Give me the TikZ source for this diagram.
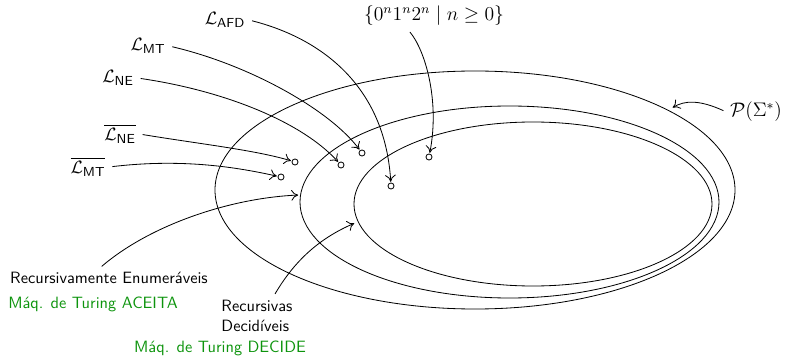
\documentclass[tikz,border=0pt]{standalone}
\usepackage{amsmath,amssymb}
\usetikzlibrary{arrows.meta}
\definecolor{tmgreen}{rgb}{0.05,0.58,0.05}
\begin{document}
\begin{tikzpicture}[x=0.611pt,y=-0.611pt, line width=0.5pt,
  lbl/.style={font=\sffamily, inner sep=2pt},
  glbl/.style={font=\sffamily, text=tmgreen, inner sep=2pt},
  mlbl/.style={inner sep=2pt, font=\fontsize{10.8}{13}\selectfont},
  bmlbl/.style={inner sep=2pt, font=\fontsize{11.7}{14}\selectfont},
  dot/.style={circle, draw, fill=white, inner sep=0pt, minimum size=3.7pt},
  conn/.style={-{To[length=4.2pt,width=6.5pt]}, shorten <=2pt, shorten >=0.5pt}]
\useasboundingbox (0,0) rectangle (785,356);

% sets
\draw (475,190) ellipse [x radius=260, y radius=119];
\draw (509.5,202) ellipse [x radius=209.5, y radius=96];
\draw (533,204) ellipse [x radius=179, y radius=82];

% labels
\node[mlbl] (lafd) at (225,20) {$\mathcal{L}_{\mathsf{AFD}}$};
\node[mlbl] (lmt) at (148,46) {$\mathcal{L}_{\mathsf{MT}}$};
\node[mlbl] (lne) at (118,78) {$\mathcal{L}_{\mathsf{NE}}$};
\node[mlbl] (lnebar) at (120,134) {$\overline{\mathcal{L}_{\mathsf{NE}}}$};
\node[mlbl] (lmtbar) at (88,167) {$\overline{\mathcal{L}_{\mathsf{MT}}}$};
\node[bmlbl] (lang) at (434,16) {$\{0^n1^n2^n \mid n \geq 0\}$};
\node[bmlbl] (pset) at (756,112) {$\mathcal{P}(\Sigma^*)$};
\node[lbl] (re) at (109,278) {Recursivamente Enumeráveis};
\node[glbl] (aceita) at (93,304) {Máq. de Turing ACEITA};
\node[lbl, align=left] (rec) at (257,316) {Recursivas\\Decidíveis};
\node[glbl] (decide) at (220,348) {Máq. de Turing DECIDE};

% elements
\node[dot] (dnebar) at (295,162) {};
\node[dot] (dmtbar) at (281,177) {};
\node[dot] (dne) at (341,165) {};
\node[dot] (dmt) at (362,153) {};
\node[dot] (dafd) at (391,186) {};
\node[dot] (dlang) at (429,157) {};

\coordinate (pend) at (672,108);
\coordinate (reend) at (299,195);
\coordinate (recend) at (355,223);

% connectors
\draw[conn] (lafd.east) .. controls (320,38) and (385,85) .. (dafd);
\draw[conn] (lmt.east) .. controls (250,65) and (330,110) .. (dmt);
\draw[conn] (lne.east) .. controls (220,90) and (300,120) .. (dne);
\draw[conn] (lnebar.east) .. controls (200,144) and (255,150) .. (dnebar);
\draw[conn] (lmtbar.east) .. controls (185,158) and (240,168) .. (dmtbar);
\draw[conn] ([xshift=-16pt]lang.south) .. controls (425,50) and (440,100) .. (dlang);
\draw[conn] (pset.west) .. controls (700,100) and (685,100) .. (pend);
\draw[conn] ([xshift=-6pt]re.north) .. controls (150,225) and (230,198) .. (reend);
\draw[conn] ([xshift=10pt]rec.north) .. controls (295,260) and (320,238) .. (recend);
\end{tikzpicture}
\end{document}
